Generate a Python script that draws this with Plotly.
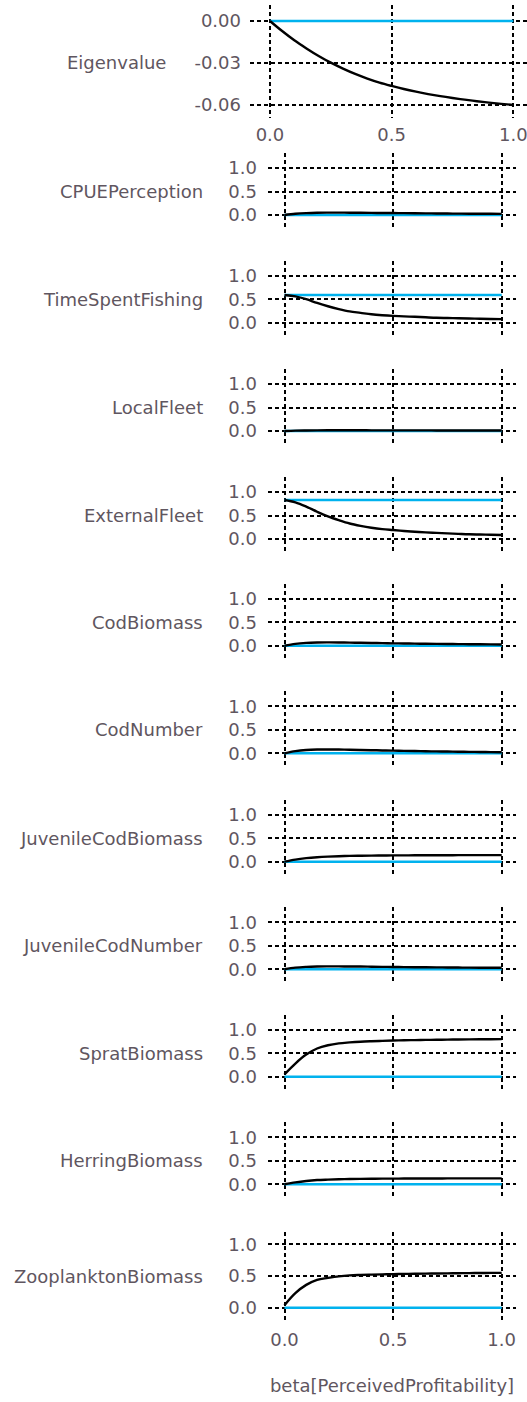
import plotly.graph_objects as go

# ---------------- data ----------------
beta = [0.0, 0.05, 0.1, 0.15, 0.2, 0.25, 0.3, 0.35, 0.4, 0.45, 0.5,
        0.55, 0.6, 0.65, 0.7, 0.75, 0.8, 0.85, 0.9, 0.95, 1.0]

names = ["Eigenvalue", "CPUEPerception", "TimeSpentFishing", "LocalFleet",
         "ExternalFleet", "CodBiomass", "CodNumber", "JuvenileCodBiomass",
         "JuvenileCodNumber", "SpratBiomass", "HerringBiomass", "ZooplanktonBiomass"]

# constant (cyan) reference level per panel
baseline = [0.0, 0.0, 0.59, 0.0, 0.83, 0.0, 0.0, 0.0, 0.0, 0.0, 0.0, 0.0]

eigenvalue = [0.0, -0.0072, -0.0138, -0.0196, -0.0250, -0.0298, -0.0340, -0.0378, -0.0411, -0.0440, -0.0464,
              -0.0486, -0.0505, -0.0522, -0.0537, -0.0550, -0.0562, -0.0573, -0.0583, -0.0592, -0.0600]
cpue_perception = [0.0, 0.025, 0.04, 0.048, 0.05, 0.05, 0.049, 0.047, 0.045, 0.043, 0.041,
                   0.039, 0.037, 0.035, 0.033, 0.031, 0.029, 0.027, 0.026, 0.025, 0.024]
time_spent_fishing = [0.59, 0.56, 0.50, 0.42, 0.35, 0.29, 0.24, 0.21, 0.18, 0.16, 0.145,
                      0.135, 0.125, 0.115, 0.105, 0.10, 0.095, 0.09, 0.085, 0.08, 0.075]
local_fleet = [0.0, 0.008, 0.012, 0.014, 0.015, 0.015, 0.015, 0.015, 0.014, 0.014, 0.014,
               0.013, 0.013, 0.013, 0.012, 0.012, 0.012, 0.011, 0.011, 0.011, 0.010]
external_fleet = [0.83, 0.78, 0.69, 0.58, 0.48, 0.40, 0.33, 0.28, 0.24, 0.21, 0.19,
                  0.17, 0.155, 0.14, 0.13, 0.12, 0.11, 0.10, 0.095, 0.09, 0.085]
cod_biomass = [0.0, 0.04, 0.06, 0.068, 0.07, 0.069, 0.066, 0.062, 0.058, 0.054, 0.05,
               0.047, 0.044, 0.041, 0.038, 0.036, 0.034, 0.032, 0.030, 0.028, 0.026]
cod_number = [0.0, 0.045, 0.07, 0.08, 0.082, 0.08, 0.076, 0.071, 0.066, 0.061, 0.056,
              0.052, 0.048, 0.044, 0.040, 0.037, 0.034, 0.031, 0.028, 0.025, 0.022]
juvenile_cod_biomass = [0.0, 0.045, 0.075, 0.095, 0.108, 0.117, 0.123, 0.127, 0.130, 0.132, 0.134,
                        0.135, 0.136, 0.137, 0.138, 0.138, 0.139, 0.139, 0.140, 0.140, 0.140]
juvenile_cod_number = [0.0, 0.035, 0.052, 0.06, 0.062, 0.062, 0.06, 0.058, 0.055, 0.052, 0.05,
                       0.047, 0.045, 0.043, 0.041, 0.039, 0.037, 0.035, 0.034, 0.033, 0.032]
sprat_biomass = [0.05, 0.28, 0.47, 0.60, 0.67, 0.71, 0.73, 0.745, 0.755, 0.763, 0.77,
                 0.775, 0.779, 0.783, 0.786, 0.789, 0.792, 0.794, 0.796, 0.798, 0.80]
herring_biomass = [0.0, 0.04, 0.07, 0.09, 0.10, 0.108, 0.113, 0.116, 0.118, 0.12, 0.121,
                   0.122, 0.123, 0.124, 0.124, 0.125, 0.125, 0.126, 0.126, 0.127, 0.127]
zooplankton_biomass = [0.04, 0.23, 0.36, 0.44, 0.47, 0.495, 0.51, 0.517, 0.522, 0.526, 0.53,
                       0.533, 0.536, 0.538, 0.54, 0.542, 0.544, 0.546, 0.547, 0.549, 0.55]

series = [eigenvalue, cpue_perception, time_spent_fishing, local_fleet, external_fleet,
          cod_biomass, cod_number, juvenile_cod_biomass, juvenile_cod_number,
          sprat_biomass, herring_biomass, zooplankton_biomass]

x_ticks = [0.0, 0.5, 1.0]
x_ticktext = ["0.0", "0.5", "1.0"]
eig_ticks = [0.0, -0.03, -0.06]
eig_ticktext = ["0.00", "-0.03", "-0.06"]
y_ticks = [0.0, 0.5, 1.0]
y_ticktext = ["0.0", "0.5", "1.0"]
x_title = "beta[PerceivedProfitability]"

# ---------------- layout helpers (pixel geometry) ----------------
W, H = 527, 1402
TXT = "#5f5660"
CYAN = "#00b2ee"
FONT = "DejaVu Sans"


def py(p):
    return 1 - p / H


fig = go.Figure()

# panel geometry: (top_px, bottom_px, yrange)
zeros = [215, 322.7, 431, 539, 645.7, 753.3, 861.7, 969.3, 1076.7, 1184.3]
geo = [(5, 118, [-0.0693, 0.0114])]
for z in zeros:
    geo.append((z - 62, z + 15, [-15 / 47, 1 + 15 / 47]))
geo.append((1232, 1323, [-0.241, 1.194]))

grid = dict(showgrid=True, gridcolor="black", gridwidth=1.6, griddash="4px,3px",
            zeroline=False, showline=False)

for i, (nm, ys) in enumerate(zip(names, series)):
    idx = "" if i == 0 else str(i + 1)
    top, bot, yr = geo[i]
    if i == 0:
        xdom = [250 / W, 1.0]
        xr = [-0.082, 1.056]
    else:
        xdom = [268 / W, 516 / W]
        xr = [-0.076, 1.066]
    show_x = (i == 0) or (i == len(names) - 1)
    fig.add_trace(go.Scatter(x=[beta[0], beta[-1]], y=[baseline[i], baseline[i]],
                             mode="lines", line=dict(color=CYAN, width=2.6),
                             xaxis="x" + idx, yaxis="y" + idx, showlegend=False,
                             hoverinfo="skip"))
    fig.add_trace(go.Scatter(x=beta, y=ys, mode="lines",
                             line=dict(color="black", width=2.4, shape="spline"),
                             xaxis="x" + idx, yaxis="y" + idx, showlegend=False,
                             hoverinfo="skip"))
    xa = dict(domain=xdom, range=xr, anchor="y" + idx, tickvals=x_ticks, ticktext=x_ticktext,
              showticklabels=show_x, ticks="", ticklabelstandoff=4,
              ticklabeloverflow="allow",
              tickfont=dict(family=FONT, size=18, color=TXT), **grid)
    ya = dict(domain=[py(bot), py(top)], range=yr, anchor="x" + idx,
              tickvals=eig_ticks if i == 0 else y_ticks,
              ticktext=eig_ticktext if i == 0 else y_ticktext,
              ticks="", ticklabelstandoff=8 if i == 0 else 10,
              tickfont=dict(family=FONT, size=18, color=TXT), **grid)
    if i == len(names) - 1:
        xa["title"] = dict(text=x_title, font=dict(family=FONT, size=18, color=TXT), standoff=30)
    fig.layout["xaxis" + idx] = xa
    fig.layout["yaxis" + idx] = ya

    # row label
    if i == 0:
        ax_x = 168 / W
        lab_y = py(63)
    else:
        lab_y = py(zeros[i - 1] - 23.5) if i < len(names) - 1 else py(1276)
        ax_x = 205 / W
    fig.add_annotation(text=nm, xref="paper", yref="paper", x=ax_x, y=lab_y,
                       xanchor="right", yanchor="middle", showarrow=False,
                       font=dict(family=FONT, size=18, color=TXT))

fig.update_layout(width=W, height=H, margin=dict(l=0, r=0, t=0, b=0),
                  paper_bgcolor="white", plot_bgcolor="white", hovermode=False)

fig.write_html("out.html", config={"displayModeBar": False},
               post_script="document.body.style.margin='0';document.body.style.overflow='hidden';")
